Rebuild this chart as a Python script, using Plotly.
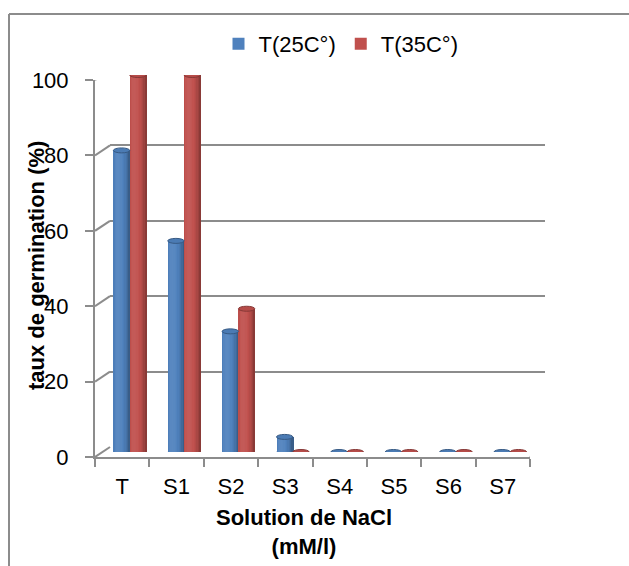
import math
import plotly.graph_objects as go

# ---- data -------------------------------------------------------------
categories = ["T", "S1", "S2", "S3", "S4", "S5", "S6", "S7"]
germ_25 = [80, 56, 32, 4, 0, 0, 0, 0]      # T(25C°)
germ_35 = [100, 100, 38, 0, 0, 0, 0, 0]    # T(35C°)
series_names = ["T(25C°)", "T(35C°)"]
y_ticks = [0, 20, 40, 60, 80, 100]

# ---- styling ----------------------------------------------------------
W, H = 629, 566
BLUE, RED = "#4F81BD", "#C0504D"
GRID = "#8C8C8C"
FONT = "Liberation Sans, Arial, sans-serif"
DEPTH_X, DEPTH_Y = 15, 10          # pixel offset of the back wall
BAR_W = 0.30                      # width of one cylinder, category units
N_STRIPS = 12                     # strips used for cylinder shading


def px_x(p):
    return p / W


def px_y(p):
    return (H - p) / H


def shade(hex_color, f):
    r, g, b = (int(hex_color[i:i + 2], 16) for i in (1, 3, 5))
    if f <= 1:
        r, g, b = (c * f for c in (r, g, b))
    else:
        t = min(f - 1, 1)
        r, g, b = (c + (255 - c) * t for c in (r, g, b))
    return "rgb(%d,%d,%d)" % (round(r), round(g), round(b))


# front plane (axes, ticks, labels)
front_x = [px_x(95), px_x(530)]
front_y = [px_y(457), px_y(80)]
# back wall (gridlines)
back_x = [px_x(95 + DEPTH_X), px_x(530 + DEPTH_X)]
back_y = [px_y(457 - DEPTH_Y), px_y(80 - DEPTH_Y)]
# middle depth (cylinders)
mid_x = [px_x(95 + DEPTH_X / 2), px_x(530 + DEPTH_X / 2)]
mid_y = [px_y(457 - DEPTH_Y / 2), px_y(80 - DEPTH_Y / 2)]

fig = go.Figure()

# empty trace so the back-wall subplot is created and its grid drawn
fig.add_trace(go.Scatter(x=[], y=[], xaxis="x2", yaxis="y2",
                         showlegend=False, hoverinfo="skip"))

shapes = []
for s, (vals, color, name) in enumerate(zip([germ_25, germ_35], [BLUE, RED], series_names)):
    base_off = -BAR_W if s == 0 else 0.0
    # base cylinder body (also the legend entry)
    fig.add_trace(go.Bar(
        x=categories, y=vals, name=name, xaxis="x3", yaxis="y3",
        offset=base_off, width=BAR_W, marker=dict(color=color, line=dict(width=0)),
        legendgroup=name, hoverinfo="skip",
    ))
    # shading strips across the cylinder
    sw = BAR_W / N_STRIPS
    for k in range(N_STRIPS):
        t = (k + 0.5) / N_STRIPS
        theta = math.asin(2 * t - 1)
        light = max(0.0, math.cos(theta + 0.45))
        f = 0.72 + 0.34 * light
        fig.add_trace(go.Bar(
            x=categories, y=vals, xaxis="x3", yaxis="y3",
            offset=base_off + k * sw, width=sw * 1.15,
            marker=dict(color=shade(color, f), line=dict(width=0)),
            showlegend=False, legendgroup=name, hoverinfo="skip",
        ))
    # elliptical bottom and top of each cylinder
    for i, v in enumerate(vals):
        x0 = i + base_off
        x1 = x0 + BAR_W
        if v > 0:
            shapes.append(dict(
                type="circle", xref="x3", yref="y3", x0=x0, x1=x1,
                ysizemode="pixel", yanchor=0, y0=-2.5, y1=2.5,
                fillcolor=shade(color, 0.8), line=dict(width=0), layer="below",
            ))
        shapes.append(dict(
            type="circle", xref="x3", yref="y3", x0=x0, x1=x1,
            ysizemode="pixel", yanchor=v, y0=-2.5, y1=2.5,
            fillcolor=shade(color, 0.95), line=dict(color=shade(color, 0.7), width=1),
        ))

# diagonal edges joining the front axis to the back wall
for t in y_ticks:
    shapes.append(dict(
        type="line", xref="x", yref="y", xsizemode="pixel", ysizemode="pixel",
        xanchor=-0.5, x0=0, x1=DEPTH_X, yanchor=t, y0=0, y1=DEPTH_Y,
        line=dict(color=GRID, width=2),
    ))
shapes.append(dict(
    type="line", xref="x", yref="y", xsizemode="pixel", ysizemode="pixel",
    xanchor=len(categories) - 0.5, x0=0, x1=DEPTH_X, yanchor=0, y0=0, y1=DEPTH_Y,
    line=dict(color=GRID, width=2),
))
# chart area border (left and top edges)
shapes.append(dict(type="line", xref="paper", yref="paper",
                   x0=px_x(9), x1=px_x(9), y0=0, y1=px_y(14),
                   line=dict(color=GRID, width=2)))
shapes.append(dict(type="line", xref="paper", yref="paper",
                   x0=px_x(9), x1=1.0, y0=px_y(14), y1=px_y(14),
                   line=dict(color=GRID, width=2)))

axis_font = dict(family=FONT, size=22, color="#000000")

fig.update_layout(
    width=W, height=H, autosize=False,
    margin=dict(l=0, r=0, t=0, b=0, pad=0, autoexpand=False),
    paper_bgcolor="white", plot_bgcolor="rgba(0,0,0,0)",
    barmode="overlay", bargap=0,
    font=dict(family=FONT, size=22, color="#000000"),
    showlegend=True,
    legend=dict(orientation="h", x=px_x(341), xanchor="center",
                y=px_y(44), yanchor="middle",
                font=dict(family=FONT, size=22, color="#000000"),
                bgcolor="rgba(0,0,0,0)", itemclick=False, itemdoubleclick=False,
                traceorder="normal"),
    # front plane
    xaxis=dict(domain=front_x, anchor="y", type="category",
               categoryorder="array", categoryarray=categories,
               range=[-0.5, len(categories) - 0.5],
               showline=True, linecolor=GRID, linewidth=2,
               ticks="outside", tickson="boundaries", ticklen=8, tickwidth=2,
               tickcolor=GRID, showgrid=False, zeroline=False,
               tickfont=axis_font, ticklabelstandoff=9, fixedrange=True),
    yaxis=dict(domain=front_y, anchor="x", range=[0, 100],
               tickvals=y_ticks, ticktext=[str(v) for v in y_ticks],
               showline=True, linecolor=GRID, linewidth=2,
               ticks="outside", ticklen=8, tickwidth=2, tickcolor=GRID,
               showgrid=False, zeroline=False, tickfont=axis_font,
               ticklabelstandoff=12, fixedrange=True),
    # back wall
    xaxis2=dict(domain=back_x, anchor="y2", range=[-0.5, len(categories) - 0.5],
                showline=False, showgrid=False, zeroline=False,
                showticklabels=False, ticks="", fixedrange=True),
    yaxis2=dict(domain=back_y, anchor="x2", range=[0, 100], tickvals=y_ticks,
                showline=False, showgrid=True, gridcolor=GRID, gridwidth=2,
                zeroline=False, showticklabels=False, ticks="", fixedrange=True),
    # cylinders
    xaxis3=dict(domain=mid_x, anchor="y3", type="category",
                categoryorder="array", categoryarray=categories,
                range=[-0.5, len(categories) - 0.5],
                showline=False, showgrid=False, zeroline=False,
                showticklabels=False, ticks="", fixedrange=True),
    yaxis3=dict(domain=mid_y, anchor="x3", range=[0, 100],
                showline=False, showgrid=False, zeroline=False,
                showticklabels=False, ticks="", fixedrange=True),
    shapes=shapes,
    annotations=[
        dict(text="taux de germination (%)", textangle=-90,
             xref="paper", yref="paper", x=px_x(36), y=px_y(266),
             xanchor="center", yanchor="middle", showarrow=False,
             font=dict(family=FONT, size=22, color="#000000", weight="bold")),
        dict(text="Solution de NaCl<br>(mM/l)",
             xref="paper", yref="paper", x=px_x(304), y=px_y(532),
             xanchor="center", yanchor="middle", showarrow=False,
             font=dict(family=FONT, size=22, color="#000000", weight="bold")),
    ],
)

fig.write_html("out.html", config={"displayModeBar": False})
